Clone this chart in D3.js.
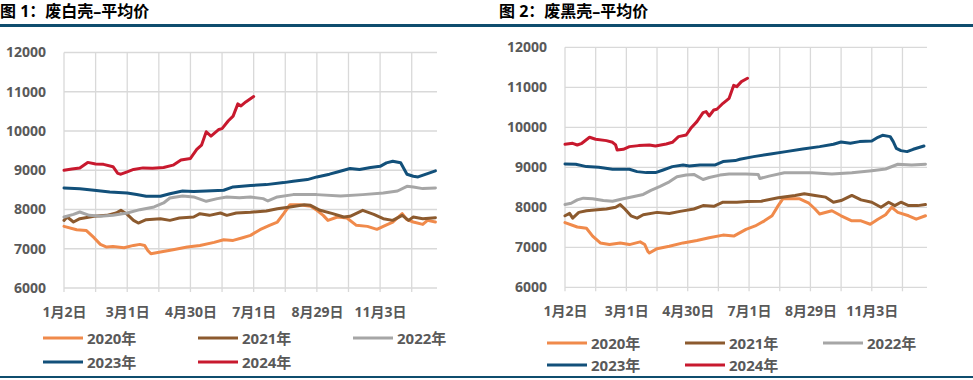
<!DOCTYPE html>
<html><head><meta charset="utf-8">
<script src="https://cdn.jsdelivr.net/npm/d3@7"></script>
<style>
html,body{margin:0;padding:0;background:#fff;}
svg{display:block;}
text{font-family:"Open Sans","Noto Sans CJK SC",sans-serif;}
</style></head>
<body>
<svg id="c" width="973" height="380"></svg>
<script>
// ---------- data ----------
const titles = ["图 1：废白壳–平均价", "图 2：废黑壳–平均价"];
const seriesNames = ["2020年", "2021年", "2022年", "2023年", "2024年"];
const seriesColors = ["#F08A4B", "#8C5A2E", "#A6A6A6", "#12507A", "#C8192E"];
const tickLabels = ["1月2日", "3月1日", "4月30日", "7月1日", "8月29日", "11月3日"];
const yTicks = [6000, 7000, 8000, 9000, 10000, 11000, 12000];
const nCategories = 236;          // trading days in the year axis
const gridEvery = 20;             // category gridline step
const labelEvery = 40;            // category label step

// 图1 废白壳 [day index, price]
const white2020 = [[0,7570],[8,7485],[14,7468],[19,7281],[23,7111],[27,7043],[31,7060],[38,7026],[44,7085],[48,7111],[51,7085],[53,6957],[55,6872],[61,6915],[69,6975],[78,7043],[86,7085],[95,7162],[101,7230],[107,7213],[113,7281],[118,7340],[124,7485],[130,7596],[135,7681],[139,7894],[143,8123],[149,8123],[156,8081],[160,7979],[164,7851],[167,7723],[173,7809],[179,7783],[185,7596],[192,7570],[198,7494],[202,7570],[208,7681],[214,7894],[217,7740],[221,7681],[227,7621],[230,7723],[235,7681]];
const white2021 = [[0,7723],[2,7809],[6,7681],[10,7766],[19,7826],[27,7851],[33,7910],[36,7979],[40,7877],[44,7723],[47,7655],[52,7740],[61,7766],[67,7723],[73,7783],[82,7809],[86,7894],[92,7851],[99,7910],[103,7851],[109,7910],[118,7928],[128,7962],[135,8021],[143,8064],[152,8123],[156,8106],[162,7979],[170,7894],[177,7809],[181,7826],[189,7979],[196,7877],[202,7766],[208,7723],[214,7851],[218,7723],[221,7809],[227,7766],[235,7792]];
const white2022 = [[0,7809],[6,7876],[10,7936],[16,7851],[23,7826],[31,7851],[40,7910],[48,7996],[57,8064],[63,8166],[67,8294],[75,8345],[82,8320],[90,8209],[97,8277],[103,8320],[111,8302],[118,8320],[126,8277],[129,8217],[135,8320],[145,8379],[160,8379],[175,8345],[189,8379],[202,8421],[211,8472],[217,8591],[221,8574],[227,8532],[235,8549]];
const white2023 = [[0,8549],[10,8530],[19,8490],[29,8447],[40,8420],[46,8380],[52,8336],[61,8336],[67,8400],[75,8470],[82,8460],[90,8470],[101,8490],[107,8575],[118,8610],[128,8634],[139,8685],[145,8720],[154,8762],[160,8830],[168,8900],[173,8957],[181,9043],[187,9017],[194,9068],[200,9100],[204,9187],[208,9230],[213,9190],[215,9043],[217,8898],[221,8847],[224,8830],[230,8915],[235,8983]];
const white2024 = [[0,9000],[5,9030],[10,9060],[15,9200],[20,9160],[25,9150],[31,9090],[34,8920],[36,8900],[40,8960],[44,9020],[50,9060],[56,9050],[63,9070],[69,9130],[74,9260],[80,9300],[84,9530],[87,9640],[90,9980],[93,9870],[98,10040],[100,10060],[104,10260],[107,10380],[110,10690],[112,10640],[115,10740],[120,10877]];

// 图2 废黑壳 [day index, price]
const black2020 = [[0,7619],[8,7508],[14,7475],[18,7280],[23,7110],[29,7068],[36,7110],[42,7068],[49,7136],[52,7068],[54,6898],[55,6856],[60,6966],[68,7025],[77,7110],[86,7169],[94,7237],[103,7305],[110,7280],[118,7449],[124,7534],[130,7661],[135,7788],[139,8042],[142,8212],[148,8212],[153,8212],[159,8102],[163,7958],[166,7831],[174,7915],[180,7788],[187,7661],[193,7661],[199,7576],[204,7703],[209,7814],[213,8000],[217,7873],[224,7788],[229,7703],[235,7788]];
const black2021 = [[0,7788],[3,7847],[5,7729],[9,7873],[14,7915],[21,7941],[27,7958],[33,8000],[36,8068],[39,7958],[43,7788],[47,7729],[51,7814],[60,7873],[68,7847],[75,7898],[84,7958],[90,8042],[97,8025],[103,8127],[112,8127],[119,8144],[128,8153],[139,8237],[150,8297],[156,8339],[163,8297],[170,8254],[175,8127],[180,8169],[187,8297],[193,8186],[200,8127],[206,8000],[211,8127],[215,8042],[219,8127],[224,8042],[230,8042],[235,8068]];
const black2022 = [[0,8070],[4,8100],[8,8186],[12,8229],[18,8212],[25,8169],[31,8153],[38,8212],[45,8271],[51,8322],[56,8424],[62,8525],[68,8636],[73,8763],[79,8805],[84,8822],[90,8695],[94,8746],[101,8805],[107,8831],[118,8831],[126,8822],[127,8720],[133,8780],[143,8864],[161,8864],[174,8831],[187,8864],[200,8915],[209,8958],[217,9076],[226,9059],[235,9076]];
const black2023 = [[0,9083],[7,9075],[14,9017],[22,9000],[31,8950],[42,8950],[47,8892],[53,8867],[59,8867],[64,8933],[70,9017],[77,9058],[81,9033],[88,9058],[98,9058],[103,9142],[111,9167],[114,9200],[123,9267],[134,9333],[144,9392],[155,9458],[166,9517],[175,9575],[180,9633],[186,9600],[192,9642],[200,9658],[204,9750],[207,9800],[212,9767],[214,9642],[216,9475],[219,9417],[223,9392],[227,9450],[234,9533]];
const black2024 = [[0,9575],[5,9600],[8,9558],[11,9600],[16,9750],[20,9700],[27,9667],[31,9625],[33,9558],[34,9433],[38,9450],[42,9517],[48,9542],[55,9558],[59,9533],[66,9583],[70,9625],[74,9767],[79,9808],[82,9975],[86,10142],[90,10367],[92,10392],[94,10283],[97,10433],[99,10450],[103,10600],[107,10725],[110,11050],[112,11017],[115,11142],[119,11225]];

const panels = [
  {title: titles[0], series: [white2020, white2021, white2022, white2023, white2024],
   x0: 64, x1: 437, yTop: 52.5, yBot: 288, titleX: 0,
   legendLine: [43, 198, 353], legendRows: [338, 362]},
  {title: titles[1], series: [black2020, black2021, black2022, black2023, black2024],
   x0: 565, x1: 927, yTop: 47.3, yBot: 287.3, titleX: 499,
   legendLine: [547, 685, 823], legendRows: [343, 365]}
];

const svg = d3.select("#c");
const ruleColor = "#0F4D6E";
svg.append("rect").attr("x", 0).attr("y", 24).attr("width", 973).attr("height", 3).attr("fill", ruleColor);
svg.append("rect").attr("x", 0).attr("y", 376).attr("width", 973).attr("height", 2).attr("fill", ruleColor);

panels.forEach(p => {
  svg.append("text").attr("x", p.titleX).attr("y", 17)
    .attr("font-family", "'Noto Sans CJK SC',sans-serif")
    .attr("font-weight", 700).attr("font-size", 16).attr("fill", "#000")
    .text(p.title);

  const x = d3.scaleLinear().domain([0, nCategories]).range([p.x0, p.x1]);
  const y = d3.scaleLinear().domain([6000, 12000]).range([p.yBot, p.yTop]);
  const g = svg.append("g");

  // horizontal grid
  g.selectAll(".hg").data(yTicks).join("line")
    .attr("x1", p.x0).attr("x2", p.x1)
    .attr("y1", d => y(d)).attr("y2", d => y(d))
    .attr("stroke", "#D9D9D9").attr("stroke-width", 1.3);
  // vertical grid
  const vg = d3.range(0, nCategories, gridEvery);
  g.selectAll(".vg").data(vg).join("line")
    .attr("x1", d => x(d)).attr("x2", d => x(d))
    .attr("y1", y(12000)).attr("y2", y(6000) + 4)
    .attr("stroke", "#D9D9D9").attr("stroke-width", 1.3);

  // y axis labels
  const yAxis = d3.axisLeft(y).tickValues(yTicks).tickSize(0).tickPadding(0).tickFormat(d3.format("d"));
  const ya = g.append("g").attr("transform", `translate(${p.x0 - 18},0)`).call(yAxis);
  ya.select(".domain").remove();
  ya.selectAll("text").attr("font-size", 14).attr("font-weight", 700).attr("fill", "#595959")
    .attr("font-family", "'Open Sans',sans-serif");

  // x axis labels
  const labelIdx = tickLabels.map((_, i) => i * labelEvery);
  const xAxis = d3.axisBottom(x).tickValues(labelIdx).tickSize(0).tickPadding(0)
    .tickFormat((d, i) => tickLabels[i]);
  const xa = g.append("g").attr("transform", `translate(0,${y(6000) + 29})`).call(xAxis);
  xa.select(".domain").remove();
  xa.selectAll("text").attr("font-size", 14).attr("font-weight", 700).attr("fill", "#595959")
    .attr("font-family", "'Noto Sans CJK SC',sans-serif").attr("dy", 0);

  // lines
  const line = d3.line().x(d => x(d[0])).y(d => y(d[1])).curve(d3.curveLinear);
  p.series.forEach((s, i) => {
    g.append("path").datum(s).attr("d", line)
      .attr("fill", "none").attr("stroke", seriesColors[i]).attr("stroke-width", 3)
      .attr("stroke-linejoin", "round").attr("stroke-linecap", "round");
  });

  // legend
  seriesNames.forEach((name, i) => {
    const row = i < 3 ? 0 : 1;
    const col = i < 3 ? i : i - 3;
    const lx = p.legendLine[col];
    const ly = p.legendRows[row];
    svg.append("line").attr("x1", lx).attr("x2", lx + 40).attr("y1", ly).attr("y2", ly)
      .attr("stroke", seriesColors[i]).attr("stroke-width", 3);
    svg.append("text").attr("x", lx + 44).attr("y", ly + 5.5)
      .attr("font-size", 15).attr("font-weight", 700).attr("fill", "#595959")
      .attr("font-family", "'Noto Sans CJK SC',sans-serif")
      .text(name);
  });
});
</script>
</body></html>
